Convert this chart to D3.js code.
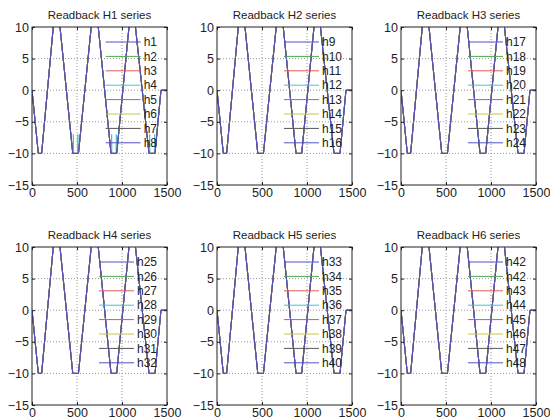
<!DOCTYPE html>
<html>
<head>
<meta charset="utf-8">
<script src="https://cdn.jsdelivr.net/npm/d3@7"></script>
<style>
  body { margin: 0; background: #fff; }
  text { font-family: "Liberation Sans", Arial, sans-serif; fill: #222; }
</style>
</head>
<body>
<div id="chart"></div>
<script>
// waveform (x = sample, y = readback)
var waveX = [0, 70, 107, 272, 453, 516, 697, 878, 941, 1112, 1300, 1367, 1433, 1500];
var waveY = [0, -10, -10, 15.5, -10, -10, 15.5, -10, -10, 15, -10, -10, 0, 0];

// h4 in the first panel has small spikes inside the troughs
var spikeX = [0, 70, 107, 272, 453, 460, 463, 506, 509, 516, 697, 878, 885, 888, 934, 937, 941, 1112, 1300, 1307, 1310, 1360, 1363, 1367, 1433, 1500];
var spikeY = [0, -10, -10, 15.5, -10, -7, -10, -10, -7, -10, 15.5, -10, -7, -10, -10, -7, -10, 15, -10, -7, -10, -10, -7, -10, 0, 0];

var titles = ["Readback H1 series", "Readback H2 series", "Readback H3 series",
              "Readback H4 series", "Readback H5 series", "Readback H6 series"];
var legendLabels = [
  ["h1", "h2", "h3", "h4", "h5", "h6", "h7", "h8"],
  ["h9", "h10", "h11", "h12", "h13", "h14", "h15", "h16"],
  ["h17", "h18", "h19", "h20", "h21", "h22", "h23", "h24"],
  ["h25", "h26", "h27", "h28", "h29", "h30", "h31", "h32"],
  ["h33", "h34", "h35", "h36", "h37", "h38", "h39", "h40"],
  ["h42", "h42", "h43", "h44", "h45", "h46", "h47", "h48"]
];
var xTicks = [0, 500, 1000, 1500];
var yTicks = [-15, -10, -5, 0, 5, 10];
var colors = ["#5252c4", "#4fa64f", "#e05a5a", "#48c4d0", "#c24ec2", "#c8c648", "#555555", "#5252c4"];

var width = 550, height = 419;
var colLeft = [32, 217, 401], rowTop = [27, 247];
var pw = 135, ph = 158;

var svg = d3.select("#chart").append("svg")
  .attr("width", width).attr("height", height);

titles.forEach(function(title, p) {
  var left = colLeft[p % 3], top = rowTop[Math.floor(p / 3)];
  var g = svg.append("g").attr("transform", "translate(" + left + "," + top + ")");

  var x = d3.scaleLinear().domain([0, 1500]).range([0, pw]);
  var y = d3.scaleLinear().domain([-15, 10]).range([ph, 0]);

  g.append("rect").attr("width", pw).attr("height", ph).attr("fill", "#fff");

  // dotted grid
  g.selectAll(".gx").data(xTicks.slice(1, -1)).enter().append("line")
    .attr("x1", function(d) { return x(d); }).attr("x2", function(d) { return x(d); })
    .attr("y1", 0).attr("y2", ph)
    .attr("stroke", "#999").attr("stroke-dasharray", "1,2");
  g.selectAll(".gy").data(yTicks.slice(1, -1)).enter().append("line")
    .attr("y1", function(d) { return y(d); }).attr("y2", function(d) { return y(d); })
    .attr("x1", 0).attr("x2", pw)
    .attr("stroke", "#999").attr("stroke-dasharray", "1,2");

  var clipId = "clip" + p;
  g.append("clipPath").attr("id", clipId).append("rect").attr("width", pw).attr("height", ph);

  var line = d3.line().x(function(d) { return x(d[0]); }).y(function(d) { return y(d[1]); });
  var base = d3.zip(waveX, waveY);
  var spiky = d3.zip(spikeX, spikeY);

  legendLabels[p].forEach(function(lab, i) {
    var pts = (p === 0 && i === 3) ? spiky : base;
    g.append("path").datum(pts)
      .attr("clip-path", "url(#" + clipId + ")")
      .attr("d", line)
      .attr("fill", "none")
      .attr("stroke", colors[i])
      .attr("stroke-width", 1);
  });

  // axes, ticks pointing inward
  g.append("g").attr("transform", "translate(0," + ph + ")")
    .call(d3.axisBottom(x).tickValues(xTicks).tickSize(-3).tickPadding(3).tickFormat(d3.format("d")))
    .call(function(a) { a.select(".domain").remove(); a.selectAll("text").attr("font-size", 12.5).attr("fill", "#222"); });
  g.append("g")
    .call(d3.axisLeft(y).tickValues(yTicks).tickSize(-3).tickPadding(3).tickFormat(d3.format("d")))
    .call(function(a) { a.select(".domain").remove(); a.selectAll("text").attr("font-size", 12.5).attr("fill", "#222"); });
  g.append("g").call(d3.axisTop(x).tickValues(xTicks).tickSize(-3).tickFormat(""))
    .call(function(a) { a.select(".domain").remove(); });
  g.append("g").attr("transform", "translate(" + pw + ",0)")
    .call(d3.axisRight(y).tickValues(yTicks).tickSize(-3).tickFormat(""))
    .call(function(a) { a.select(".domain").remove(); });
  g.selectAll(".tick line").attr("stroke", "#222");

  g.append("rect").attr("width", pw).attr("height", ph)
    .attr("fill", "none").attr("stroke", "#222").attr("stroke-width", 1);

  g.append("text").attr("x", pw / 2).attr("y", -8)
    .attr("text-anchor", "middle").attr("font-size", 11.5).text(title);

  // legend (no box), anchored to the right
  var leg = g.append("g");
  var labels = leg.selectAll("text").data(legendLabels[p]).enter().append("text")
    .attr("x", pw - 10).attr("y", function(d, i) { return 15 + i * 14.4; })
    .attr("dy", "0.35em").attr("text-anchor", "end").attr("font-size", 12)
    .text(function(d) { return d; });
  var maxW = d3.max(labels.nodes(), function(n) { return n.getComputedTextLength(); });
  leg.selectAll("line").data(legendLabels[p]).enter().append("line")
    .attr("x1", pw - 10 - maxW - 38).attr("x2", pw - 10 - maxW - 3)
    .attr("y1", function(d, i) { return 15 + i * 14.4; })
    .attr("y2", function(d, i) { return 15 + i * 14.4; })
    .attr("stroke", function(d, i) { return colors[i]; });
  labels.attr("x", pw - 10 - maxW).attr("text-anchor", "start");
});
</script>
</body>
</html>
